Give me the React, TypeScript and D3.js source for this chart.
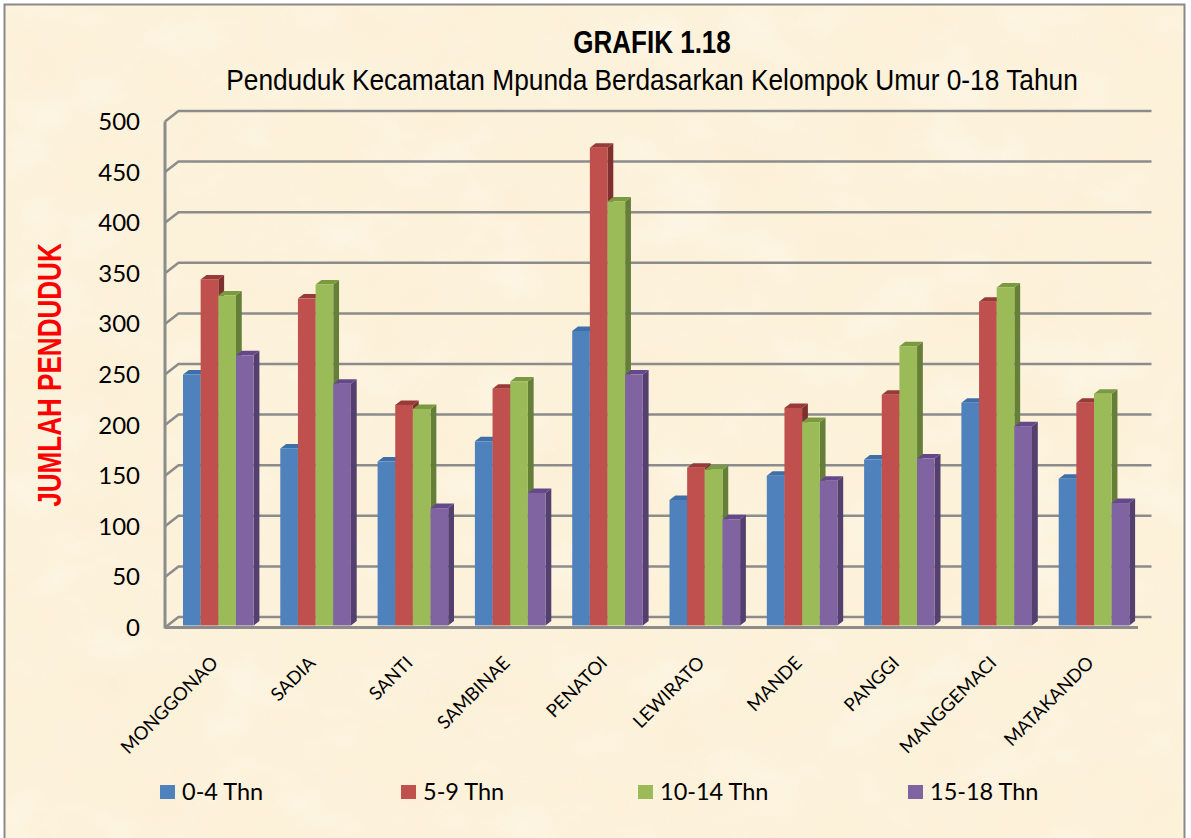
import React from "react";
import * as d3 from "d3";

const categories = ["MONGGONAO","SADIA","SANTI","SAMBINAE","PENATOI","LEWIRATO","MANDE","PANGGI","MANGGEMACI","MATAKANDO"];
const seriesNames = ["0-4 Thn","5-9 Thn","10-14 Thn","15-18 Thn"];
const age0to4 = [248,175,162,182,291,124,148,164,220,145];
const age5to9 = [342,323,218,234,472,156,215,228,320,220];
const age10to14 = [326,337,214,241,419,154,201,276,334,229];
const age15to18 = [267,239,116,131,248,105,143,165,197,121];
const yTicks = [0,50,100,150,200,250,300,350,400,450,500];
const fronts = ["#4f81bd","#c0504d","#9bbb59","#8064a2"];
const sides = ["#3a6497","#7f2f2d","#667f38","#54406f"];
const tops = ["#3f6fa8","#993a38","#7a9a40","#64498a"];
const legendX = [160, 401, 638, 908];

const W = 1191, H = 838;
const dx = 13.5, dy = 10.5;
const y = d3.scaleLinear().domain([0, 500]).range([627.5, 121.5]);
const barY = d3.scaleLinear().domain([0, 500]).range([625.5, 119.5]);
const x0 = d3.scaleBand<string>().domain(categories).range([165, 1138]).paddingInner(0).paddingOuter(0);
const series = [age0to4, age5to9, age10to14, age15to18];
const barW = 17.65, barDx = 5.8, barDy = 4.5;
const groupOffset = 18;

const sans = "Lato, 'Open Sans', sans-serif";
const narrow = "'Liberation Sans', Arial, sans-serif";
const GRID = "#8c8c8c";

export default function App() {
  return (
    <svg width={W} height={H} viewBox={`0 0 ${W} ${H}`} style={{ position: "absolute", left: 0, top: 0, display: "block" }}>
      <defs>
        <filter id="parchLight" x="0" y="0" width="100%" height="100%">
          <feTurbulence type="fractalNoise" baseFrequency="0.011 0.015" numOctaves={4} seed={7} />
          <feColorMatrix type="matrix" values="0 0 0 0 1   0 0 0 0 0.98   0 0 0 0 0.92   2.6 0 0 0 -1.15" />
        </filter>
        <filter id="parchDark" x="0" y="0" width="100%" height="100%">
          <feTurbulence type="fractalNoise" baseFrequency="0.014 0.018" numOctaves={4} seed={23} />
          <feColorMatrix type="matrix" values="0 0 0 0 0.96   0 0 0 0 0.86   0 0 0 0 0.66   2.6 0 0 0 -1.2" />
        </filter>
      </defs>
      <rect width={W} height={H} fill="#ffffff" />
      <rect x={5} y={5} width={1179} height={H} fill="#fcf1d9" />
      <rect x={5} y={5} width={1179} height={H} filter="url(#parchDark)" opacity={0.2} />
      <rect x={5} y={5} width={1179} height={H} filter="url(#parchLight)" opacity={0.35} />
      <path d={`M4.5,${H}V4.5H1184.5V${H}`} fill="none" stroke="#8a8a8a" strokeWidth={2} />

      <text transform="translate(652,52.5) scale(0.84,1)" textAnchor="middle" fontFamily={narrow} fontWeight="bold" fontSize={31} fill="#000">GRAFIK 1.18</text>
      <text transform="translate(652,89.5) scale(0.907,1)" textAnchor="middle" fontFamily={narrow} fontSize={29} fill="#000">Penduduk Kecamatan Mpunda Berdasarkan Kelompok Umur 0-18 Tahun</text>

      {yTicks.map(t => (
        <g key={t}>
          <polyline points={`${165},${y(t)} ${165 + dx},${y(t) - dy} ${1138 + dx},${y(t) - dy}`} fill="none" stroke={GRID} strokeWidth={2.5} />
          <text x={140} y={y(t) + 8.5} textAnchor="end" fontFamily={sans} fontSize={24} fill="#000">{t}</text>
        </g>
      ))}
      <line x1={165} x2={165} y1={y(500)} y2={y(0) + 1} stroke={GRID} strokeWidth={3} />
      <line x1={165} x2={1138} y1={y(0)} y2={y(0)} stroke={GRID} strokeWidth={3} />

      <text transform="translate(61,375) rotate(-90) scale(0.79,1)" textAnchor="middle" fontFamily={narrow} fontWeight="bold" fontSize={33} fill="#ff0000">JUMLAH PENDUDUK</text>

      {categories.map((c, i) => {
        const left = (x0(c) as number) + groupOffset;
        return (
          <g key={c}>
            {series.map((vals, s) => {
              const bx = left + s * barW;
              const ty = barY(vals[i]);
              const by = barY(0);
              return (
                <g key={s}>
                  <path d={`M${bx + barW},${ty}l${barDx},${-barDy}V${by - barDy}l${-barDx},${barDy}Z`} fill={sides[s]} />
                  <path d={`M${bx},${ty}l${barDx},${-barDy}h${barW}l${-barDx},${barDy}Z`} fill={tops[s]} />
                  <rect x={bx} y={ty} width={barW} height={by - ty} fill={fronts[s]} />
                </g>
              );
            })}
            <text
              transform={`translate(${left + 26},${654}) rotate(-45)`}
              textAnchor="end"
              dominantBaseline="hanging"
              fontFamily={sans}
              fontSize={18.4}
              fill="#000"
            >{c}</text>
          </g>
        );
      })}

      {seriesNames.map((n, s) => (
        <g key={n}>
          <rect x={legendX[s]} y={785} width={15} height={14} fill={fronts[s]} />
          <text x={legendX[s] + 22} y={800} fontFamily={sans} fontSize={23.5} fill="#000">{n}</text>
        </g>
      ))}
    </svg>
  );
}
